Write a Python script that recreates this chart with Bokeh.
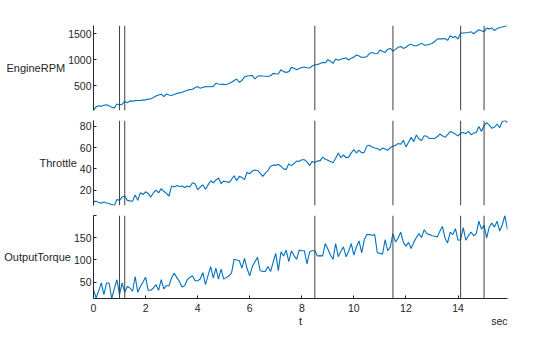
from bokeh.plotting import figure
from bokeh.layouts import column
from bokeh.models import Range1d, FixedTicker, Span, Title, ColumnDataSource
from bokeh.embed import file_html
from bokeh.resources import INLINE

# ---------------- data ----------------
t = [round(i * 0.1, 1) for i in range(160)]

engine_rpm = [
    20, 90, 110, 100, 120, 130, 110, 80, 70, 145,
    125, 140, 195, 170, 205, 200, 210, 212, 215, 220,
    225, 240, 245, 270, 300, 320, 335, 290, 340, 320,
    310, 327, 350, 360, 371, 390, 410, 423, 430, 460,
    481, 449, 470, 481, 478, 480, 485, 545, 530, 525,
    526, 520, 540, 564, 600, 628, 564, 600, 670, 685,
    690, 692, 628, 680, 692, 685, 680, 675, 690, 737,
    730, 725, 808, 770, 756, 770, 852, 835, 808, 830,
    850, 860, 845, 840, 880, 904, 905, 925, 948, 940,
    1000, 970, 929, 1013, 990, 1010, 1025, 1032, 994, 1030,
    1050, 1090, 1070, 1044, 1050, 1058, 1120, 1140, 1121, 1115,
    1186, 1160, 1140, 1200, 1218, 1167, 1200, 1240, 1256, 1218,
    1240, 1280, 1301, 1269, 1268, 1290, 1320, 1282, 1285, 1300,
    1314, 1350, 1398, 1405, 1402, 1410, 1372, 1462, 1430, 1450,
    1398, 1513, 1515, 1520, 1525, 1538, 1500, 1540, 1577, 1560,
    1538, 1609, 1595, 1610, 1564, 1600, 1620, 1630, 1645, 1660,
]

throttle = [
    9.1, 9.8, 8.5, 7.9, 9.0, 8.0, 7.5, 6.5, 5.7, 11.4,
    10.5, 13.6, 14.6, 10.5, 10.0, 9.8, 15.5, 10.5, 17.7, 16.0,
    18.5, 17.0, 13.6, 17.5, 20.0, 17.5, 21.5, 19.0, 17.0, 14.6,
    24.0, 23.0, 24.5, 23.5, 24.0, 22.5, 24.0, 23.0, 27.0, 26.0,
    20.6, 23.0, 25.0, 21.0, 25.0, 28.9, 27.0, 29.5, 31.4, 26.3,
    28.5, 28.0, 27.2, 30.0, 33.6, 29.0, 33.0, 32.0, 30.0, 36.8,
    35.5, 38.0, 39.0, 38.5, 36.0, 33.0, 36.0, 38.4, 42.5, 43.5,
    43.5, 44.1, 42.5, 40.0, 39.5, 44.7, 43.0, 45.0, 47.3, 47.0,
    48.6, 48.5, 46.5, 43.1, 47.0, 46.0, 47.5, 47.5, 51.0, 49.0,
    48.0, 47.0, 45.7, 50.0, 54.9, 50.5, 53.0, 50.5, 51.0, 55.0,
    58.1, 54.9, 57.5, 55.0, 55.5, 61.5, 62.2, 60.5, 59.6, 59.0,
    57.4, 59.6, 58.5, 57.4, 60.0, 61.2, 62.0, 63.8, 63.0, 66.9,
    60.6, 65.0, 69.5, 65.5, 71.7, 68.0, 66.5, 71.0, 70.5, 68.5,
    68.5, 68.5, 70.0, 72.6, 71.0, 69.5, 72.0, 74.9, 74.0, 72.5,
    70.8, 73.5, 74.0, 73.0, 75.2, 72.0, 73.5, 74.0, 79.6, 75.0,
    80.6, 83.4, 81.0, 78.1, 79.0, 82.0, 78.5, 84.4, 85.3, 83.4,
]

output_torque = [
    32.7, 14.0, 30.0, 48.0, 21.5, 47.8, 47.8, 12.6, 35.0, 55.2,
    21.5, 47.8, 26.7, 40.0, 36.5, 29.0, 62.6, 26.7, 40.0, 50.0,
    61.0, 31.2, 31.2, 36.5, 44.0, 31.2, 55.2, 34.3, 41.7, 41.7,
    60.0, 70.0, 60.0, 51.3, 38.8, 41.7, 55.0, 61.0, 64.1, 53.0,
    53.0, 56.7, 71.6, 44.0, 65.0, 85.0, 59.0, 81.4, 56.7, 79.1,
    56.7, 60.0, 64.1, 70.0, 101.6, 100.0, 98.4, 81.4, 103.8, 80.0,
    64.1, 85.0, 96.2, 106.0, 76.0, 74.0, 73.8, 85.0, 73.8, 95.0,
    115.0, 76.0, 118.6, 109.0, 122.4, 96.2, 120.9, 110.0, 101.6, 122.4,
    121.0, 120.9, 91.0, 118.6, 120.9, 120.9, 109.0, 110.0, 109.0, 137.4,
    125.0, 111.2, 101.6, 137.4, 107.4, 120.0, 129.8, 107.4, 120.0, 137.4,
    111.2, 130.0, 143.3, 116.4, 146.0, 157.6, 158.0, 156.0, 157.6, 116.4,
    115.0, 113.5, 146.0, 120.9, 129.8, 159.9, 141.0, 150.0, 163.4, 140.0,
    131.4, 140.0, 126.2, 140.0, 150.9, 159.9, 150.9, 168.8, 160.0, 157.6,
    155.0, 154.0, 152.3, 165.0, 176.2, 150.0, 138.8, 163.4, 157.6, 171.0,
    145.0, 146.0, 173.3, 144.8, 155.0, 163.4, 155.0, 159.9, 188.0, 170.0,
    178.5, 150.0, 175.0, 183.6, 174.7, 188.0, 165.7, 180.0, 201.0, 168.8,
]

events = [1.0, 1.2, 8.5, 11.5, 14.1, 15.0]

x_ticks = [0, 2, 4, 6, 8, 10, 12, 14]
rpm_ticks = [500, 1000, 1500]
thr_ticks = [20, 40, 60, 80]
trq_ticks = [50, 100, 150, 200]

var_names = ["EngineRPM", "Throttle", "OutputTorque"]
x_name = "t"
x_unit = "sec"

# ---------------- styling ----------------
FONT = "Liberation Sans"
TXT = "#262626"
LINE = "#0072BD"
EVT = "#404040"
TICK_FS = "10.5px"
LABEL_FS = "11px"

source = ColumnDataSource(dict(t=t, rpm=engine_rpm, thr=throttle, trq=output_torque))
x_range = Range1d(t[0], t[-1])

panels = [
    ("rpm", engine_rpm, rpm_ticks, var_names[0], 115, 25, 5),
    ("thr", throttle, thr_ticks, var_names[1], 95, 5, 5),
    ("trq", output_torque, trq_ticks, var_names[2], 127, 5, 39),
]

figs = []
for i, (col, vals, ticks, name, h, btop, bbot) in enumerate(panels):
    last = i == len(panels) - 1
    ylo, yhi = min(vals), max(vals)
    p = figure(
        width=560, height=h, output_backend="svg", toolbar_location=None,
        x_range=x_range, y_range=Range1d(ylo, yhi),
        x_axis_location="below" if last else None,
        min_border_left=93, min_border_right=53,
        min_border_top=btop, min_border_bottom=bbot,
    )
    p.outline_line_color = None
    p.grid.visible = False
    p.background_fill_color = "white"
    p.border_fill_color = "white"

    for e in events:
        p.add_layout(Span(location=e, dimension="height", line_color=EVT, line_width=1))

    p.line("t", col, source=source, line_color=LINE, line_width=1.1)

    ya = p.yaxis[0]
    ya.ticker = FixedTicker(ticks=ticks)
    if last:
        ya.major_label_overrides = {200: ""}
    ya.minor_tick_line_color = None
    ya.major_tick_in = 3
    ya.major_tick_out = 0
    ya.axis_line_color = TXT
    ya.major_tick_line_color = TXT
    ya.major_label_text_font = FONT
    ya.major_label_text_font_size = TICK_FS
    ya.major_label_text_color = TXT
    ya.major_label_standoff = 2
    ya.axis_label = name
    ya.axis_label_orientation = "horizontal"
    ya.axis_label_text_font = FONT
    ya.axis_label_text_font_size = LABEL_FS
    ya.axis_label_text_font_style = "normal"
    ya.axis_label_text_color = TXT
    ya.axis_label_standoff = 0

    if last:
        xa = p.xaxis[0]
        xa.ticker = FixedTicker(ticks=x_ticks)
        xa.minor_tick_line_color = None
        xa.major_tick_in = 3
        xa.major_tick_out = 0
        xa.axis_line_color = TXT
        xa.major_tick_line_color = TXT
        xa.major_label_text_font = FONT
        xa.major_label_text_font_size = TICK_FS
        xa.major_label_text_color = TXT
        xa.major_label_standoff = 5
        xa.axis_label = x_name
        xa.axis_label_text_font = FONT
        xa.axis_label_text_font_size = LABEL_FS
        xa.axis_label_text_font_style = "normal"
        xa.axis_label_text_color = TXT
        xa.axis_label_standoff = 0
        p.add_layout(Title(
            text=x_unit, align="right", vertical_align="top", standoff=-30,
            text_font=FONT, text_font_size=TICK_FS, text_font_style="normal",
            text_color=TXT,
        ), "below")
    figs.append(p)

layout = column(*figs, spacing=0)
open("out.html", "w").write(file_html(layout, INLINE))
